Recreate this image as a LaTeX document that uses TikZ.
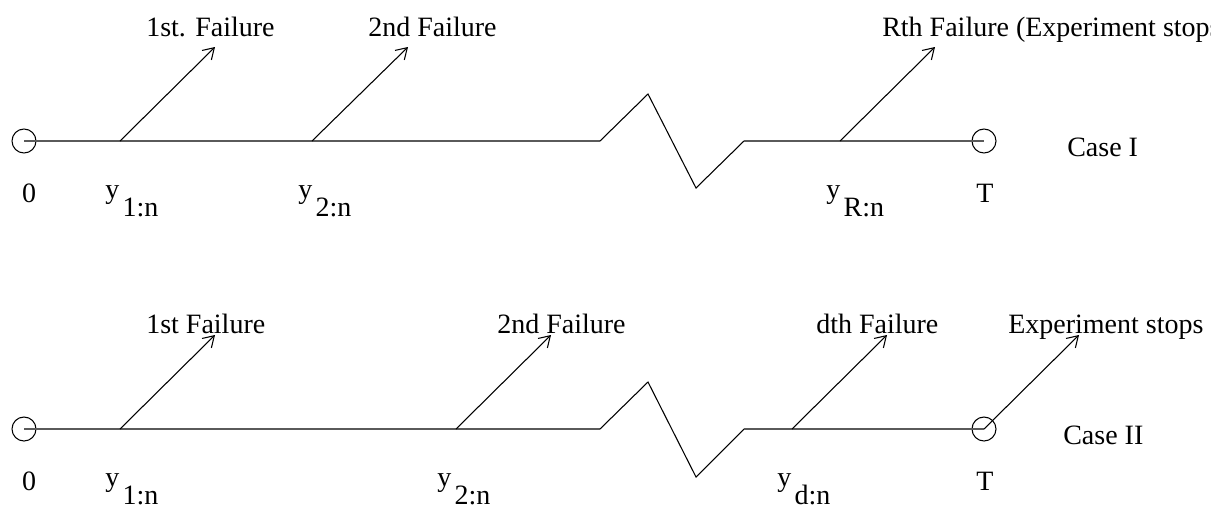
\documentclass[tikz,border=0pt]{standalone}
\usepackage{fontspec}
\setmainfont{Liberation Serif}
\definecolor{axis}{RGB}{90,90,90}
\usetikzlibrary{arrows.meta}
\newcommand{\ylab}[1]{y\hspace{2.5pt}\raisebox{-13.5pt}{#1}}
\tikzset{
  timeline/.style={draw=axis, line width=1.4pt},
  zigzag/.style={draw=black, line width=0.8pt},
  endmark/.style={circle, draw=black, line width=0.8pt, minimum size=18pt, inner sep=0pt},
  failure/.style={-{Straight Barb[length=8pt,width=10pt,line width=0.8pt]}, line width=0.8pt},
  lbl/.style={anchor=base west, inner sep=0pt, font=\fontsize{21}{25}\selectfont},
  tick/.style={anchor=base, inner sep=0pt, font=\fontsize{21}{25}\selectfont},
}

\begin{document}
\begin{tikzpicture}[x=0.75pt, y=-0.75pt]
    \useasboundingbox (0,0) rectangle (1211,529);
    % Case I
    \node[endmark] (o1) at (24,141) {};
    \node[endmark] (t1) at (984,141) {};
    \coordinate (a1) at (120,141);
    \coordinate (a2) at (312,141);
    \coordinate (aR) at (840,141);
    \coordinate (h1) at (215,47);
    \coordinate (h2) at (408,47);
    \coordinate (hR) at (935,47);
    \draw[timeline] (o1.center) -- (600,141);
    \draw[zigzag] (600,141) -- (648,94) -- (696,188) -- (744,141);
    \draw[timeline] (744,141) -- (t1.center);
    \draw[failure] (a1) -- (h1);
    \draw[failure] (a2) -- (h2);
    \draw[failure] (aR) -- (hR);
    \node[lbl] (f1) at (146,36) {1st. Failure};
    \node[lbl] (f2) at (368,36) {2nd Failure};
    \node[lbl] (fR) at (882,36) {Rth Failure (Experiment stops)};
    \node[lbl] (c1) at (1067,156) {Case I};
    \node[tick] (z1) at (29,202) {0};
    \node[lbl] (y1) at (105,198) {\ylab{1:n}};
    \node[lbl] (y2) at (298,198) {\ylab{2:n}};
    \node[lbl] (yR) at (826,198) {\ylab{R:n}};
    \node[tick] (T1) at (985,202) {T};

    % Case II
    \node[endmark] (o2) at (24,429) {};
    \node[endmark] (t2) at (984,429) {};
    \coordinate (b1) at (120,429);
    \coordinate (b2) at (456,429);
    \coordinate (bd) at (792,429);
    \coordinate (k1) at (215,335);
    \coordinate (k2) at (551,335);
    \coordinate (kd) at (887,335);
    \coordinate (ks) at (1079,335);
    \draw[timeline] (o2.center) -- (600,429);
    \draw[zigzag] (600,429) -- (648,382) -- (696,477) -- (744,429);
    \draw[timeline] (744,429) -- (t2.center);
    \draw[failure] (b1) -- (k1);
    \draw[failure] (b2) -- (k2);
    \draw[failure] (bd) -- (kd);
    \draw[failure] (t2.center) -- (ks);
    \node[lbl] (g1) at (146,333) {1st Failure};
    \node[lbl] (g2) at (497,333) {2nd Failure};
    \node[lbl] (gd) at (816,333) {dth Failure};
    \node[lbl] (gs) at (1008,333) {Experiment stops};
    \node[lbl] (c2) at (1063,444) {Case II};
    \node[tick] (z2) at (29,490) {0};
    \node[lbl] (v1) at (105,486) {\ylab{1:n}};
    \node[lbl] (v2) at (437,486) {\ylab{2:n}};
    \node[lbl] (vd) at (777,486) {\ylab{d:n}};
    \node[tick] (T2) at (985,490) {T};
\end{tikzpicture}
\end{document}
